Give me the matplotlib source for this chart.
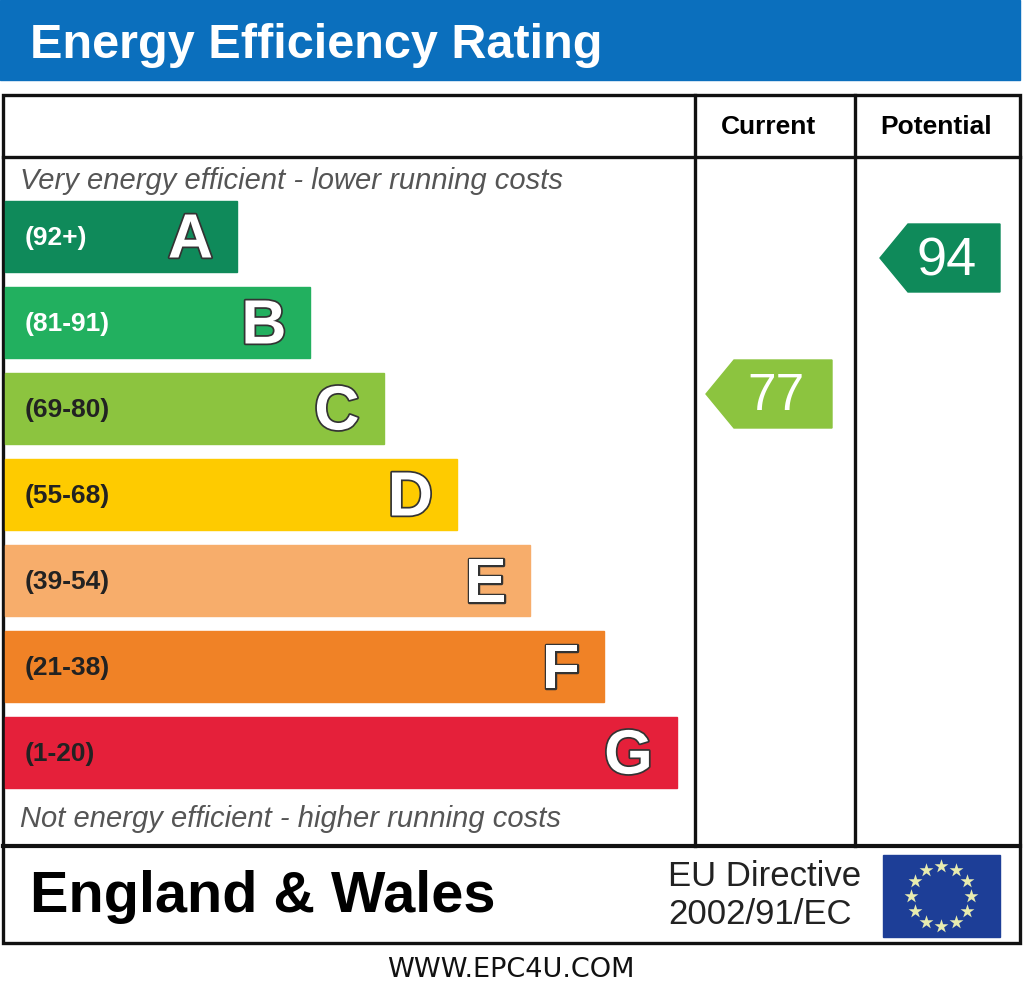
import matplotlib
matplotlib.use('Agg')
import matplotlib.pyplot as plt
import matplotlib.patheffects as pe
from matplotlib.patches import Rectangle, Polygon
import numpy as np

# band data
letters = ['A', 'B', 'C', 'D', 'E', 'F', 'G']
ranges = ['(92+)', '(81-91)', '(69-80)', '(55-68)', '(39-54)', '(21-38)', '(1-20)']
lows = [92, 81, 69, 55, 39, 21, 1]
colors = ['#0f8a5a', '#22b05f', '#8cc43f', '#fecb00', '#f7ad6b', '#f08226', '#e5203a']
range_text_colors = ['white', 'white', '#222222', '#222222', '#222222', '#222222', '#222222']

current = 77
potential = 94

title = 'Energy Efficiency Rating'
col_titles = ['Current', 'Potential']
top_note = 'Very energy efficient - lower running costs'
bottom_note = 'Not energy efficient - higher running costs'
region = 'England & Wales'
directive = ['EU Directive', '2002/91/EC']
website = 'WWW.EPC4U.COM'

plt.rcParams['font.family'] = ['Liberation Sans', 'DejaVu Sans']

fig = plt.figure(figsize=(10.24, 9.93), dpi=100)
ax = fig.add_axes([0, 0, 1, 1])
ax.set_xlim(0, 1024)
ax.set_ylim(993, 0)
ax.axis('off')


def band_for(v):
    for i, lo in enumerate(lows):
        if v >= lo:
            return i
    return len(lows) - 1


def score_y(v):
    # vertical position of a score arrow
    return 1010 - 8 * v


# header
ax.add_patch(Rectangle((0, 0), 1020, 80, color='#0b6fbd'))
ax.text(30, 45, title, color='white', fontsize=35, fontweight='bold', va='center', ha='left')

# frame
lw = 2.4
ax.add_patch(Rectangle((3, 95), 1017, 848, fill=False, ec='#111111', lw=lw))
ax.plot([3, 1020], [157, 157], color='#111111', lw=lw)
ax.plot([3, 1020], [846, 846], color='#111111', lw=lw + 0.6)
for x in [695, 855]:
    ax.plot([x, x], [95, 846], color='#111111', lw=lw)
ax.text(768, 127, col_titles[0], fontsize=19, fontweight='bold', ha='center', va='center')
ax.text(936, 127, col_titles[1], fontsize=19, fontweight='bold', ha='center', va='center')

ax.text(20, 181, top_note, fontsize=21, style='italic', color='#555555', va='center')
ax.text(20, 819, bottom_note, fontsize=21, style='italic', color='#555555', va='center')

# rating bands
outline = [pe.withStroke(linewidth=2.5, foreground='#333333')]
for i, (let, rng, col) in enumerate(zip(letters, ranges, colors)):
    top = 201 + i * 86
    right = 237 + i * 73.3
    ax.add_patch(Rectangle((5, top), right - 5, 71, color=col))
    ax.text(25, top + 37, rng, fontsize=19, fontweight='bold', color=range_text_colors[i],
            va='center', ha='left')
    ax.text(right - 24, top + 40, let, fontsize=45, fontweight='bold', color='white',
            va='center', ha='right', path_effects=outline)


# score arrows
def arrow(x_tip, x_right, v, fs):
    y = score_y(v)
    h = 34
    pts = [(x_tip, y), (x_tip + 28, y - h), (x_right, y - h), (x_right, y + h), (x_tip + 28, y + h)]
    ax.add_patch(Polygon(pts, closed=True, color=colors[band_for(v)]))
    ax.text((x_tip + 28 + x_right) / 2 - 7, y + 3, str(v), fontsize=fs, color='white',
            ha='center', va='center')


arrow(706, 832, current, 37)
arrow(880, 1000, potential, 39)

# footer
ax.text(30, 897, region, fontsize=41.5, fontweight='bold', va='center', ha='left')
ax.text(668, 876, directive[0], fontsize=25, va='center', ha='left', color='#222222')
ax.text(668, 914, directive[1], fontsize=25, va='center', ha='left', color='#222222')

ax.add_patch(Rectangle((883, 855), 117, 82, color='#1d3e97'))
ang = np.arange(12) * np.pi / 6
ax.scatter(941 + 30 * np.cos(ang), 896 + 30 * np.sin(ang), marker='*', s=110,
           color='#e8ecb0', zorder=5, linewidths=0)

ax.text(511, 970, website, fontsize=19.5, family='DejaVu Sans', ha='center', va='center',
        color='#111111')

fig.savefig('out.png', dpi=100)
print('saved')
